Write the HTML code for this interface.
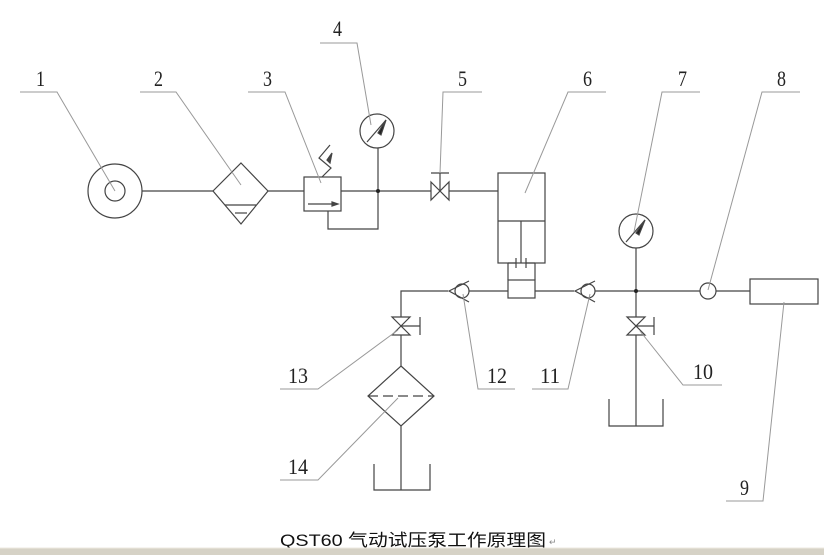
<!DOCTYPE html>
<html><head><meta charset="utf-8"><style>
html,body{margin:0;padding:0;background:#fff;width:824px;height:555px;overflow:hidden}
svg{display:block}
.l{font-family:"Liberation Serif",serif;font-size:22px;fill:#222}
</style></head><body>
<svg width="824" height="555" viewBox="0 0 824 555">
<g fill="none" stroke="#444" stroke-width="1.2">
<circle cx="115" cy="191" r="27"/><circle cx="115" cy="191" r="10"/>
<line x1="142" y1="191" x2="213" y2="191"/>
<polygon points="241,163 268,191 241,224 213,191"/>
<line x1="225" y1="205" x2="256" y2="205"/><line x1="235" y1="213" x2="247" y2="213"/>
<line x1="268" y1="191" x2="304" y2="191"/>
<rect x="304" y="177" width="37" height="34"/>
<line x1="308" y1="204" x2="332" y2="204"/>
<polygon points="332,202 338,204 332,206" fill="#444"/>
<polyline points="322,177 331,168 319,158 330,145"/>
<polygon points="327,160 332,153 330,163" fill="#444"/>
<line x1="341" y1="191" x2="431" y2="191"/>
<polyline points="378,148 378,229 328,229 328,211"/>
<circle cx="377" cy="131" r="17"/>
<line x1="367" y1="142" x2="386" y2="120"/>
<polygon points="386,120 378,133 381,135" fill="#222"/>
<polygon points="431,182 449,200 449,182 431,200"/>
<line x1="440" y1="191" x2="440" y2="173"/><line x1="431" y1="173" x2="449" y2="173"/>
<line x1="449" y1="191" x2="498" y2="191"/>
<rect x="498" y="173" width="47" height="90"/>
<line x1="498" y1="221" x2="545" y2="221"/>
<line x1="521" y1="221" x2="521" y2="263"/>
<line x1="516" y1="258" x2="516" y2="268"/><line x1="526" y1="258" x2="526" y2="268"/>
<line x1="508" y1="263" x2="516" y2="263"/><line x1="526" y1="263" x2="535" y2="263"/>
<line x1="508" y1="263" x2="508" y2="280"/><line x1="535" y1="263" x2="535" y2="280"/>
<rect x="508" y="280" width="27" height="18"/>
<polyline points="401,317 401,291 448,291"/>
<circle cx="462" cy="291" r="7"/>
<polyline points="469,281 449,291 469,302"/>
<line x1="469" y1="291" x2="508" y2="291"/>
<line x1="535" y1="291" x2="574" y2="291"/>
<circle cx="588" cy="291" r="7"/>
<polyline points="595,281 575,291 595,302"/>
<line x1="595" y1="291" x2="700" y2="291"/>
<circle cx="708" cy="291" r="8"/>
<line x1="716" y1="291" x2="750" y2="291"/>
<rect x="750" y="279" width="68" height="25"/>
<circle cx="636" cy="231" r="17"/>
<line x1="626" y1="242" x2="645" y2="220"/>
<polygon points="645,220 636,233 639,235" fill="#222"/>
<line x1="636" y1="248" x2="636" y2="317"/>
<polygon points="627,317 645,317 627,335 645,335"/>
<line x1="636" y1="326" x2="654" y2="326"/><line x1="654" y1="317" x2="654" y2="335"/>
<line x1="636" y1="335" x2="636" y2="426"/>
<polyline points="609,399 609,426 663,426 663,399"/>
<polygon points="392,317 410,317 392,335 410,335"/>
<line x1="401" y1="326" x2="420" y2="326"/><line x1="420" y1="317" x2="420" y2="335"/>
<line x1="401" y1="335" x2="401" y2="366"/>
<polygon points="401,366 434,396 401,426 368,396"/>
<line x1="368" y1="396" x2="434" y2="396" stroke-dasharray="10,5"/>
<line x1="401" y1="426" x2="401" y2="490"/>
<polyline points="374,464 374,490 430,490 430,464"/>
</g>
<g fill="#222"><circle cx="378" cy="191" r="2"/><circle cx="636" cy="291" r="2"/></g>
<g fill="none" stroke="#999" stroke-width="1">
<polyline points="20,92 57,92 115,191"/>
<polyline points="140,92 176,92 241,185"/>
<polyline points="248,92 285,92 321,183"/>
<polyline points="320,43 357,43 371,125"/>
<polyline points="482,92 443,92 440,173"/>
<polyline points="606,92 568,92 525,193"/>
<polyline points="700,92 662,92 634,232"/>
<polyline points="800,92 762,92 708,290"/>
<polyline points="726,501 763,501 784,302"/>
<polyline points="722,385 683,385 640,331"/>
<polyline points="532,389 568,389 590,294"/>
<polyline points="515,389 478,389 463,294"/>
<polyline points="280,389 318,389 398,330"/>
<polyline points="280,480 318,480 398,398"/>
</g>
<g class="l" lengthAdjust="spacingAndGlyphs">
<text x="36" y="86" textLength="9" lengthAdjust="spacingAndGlyphs">1</text>
<text x="154" y="86" textLength="9" lengthAdjust="spacingAndGlyphs">2</text>
<text x="263" y="86" textLength="9" lengthAdjust="spacingAndGlyphs">3</text>
<text x="333" y="36" textLength="9" lengthAdjust="spacingAndGlyphs">4</text>
<text x="458" y="86" textLength="9" lengthAdjust="spacingAndGlyphs">5</text>
<text x="583" y="86" textLength="9" lengthAdjust="spacingAndGlyphs">6</text>
<text x="678" y="86" textLength="9" lengthAdjust="spacingAndGlyphs">7</text>
<text x="777" y="86" textLength="9" lengthAdjust="spacingAndGlyphs">8</text>
<text x="740" y="495" textLength="9" lengthAdjust="spacingAndGlyphs">9</text>
<text x="693" y="379" textLength="20" lengthAdjust="spacingAndGlyphs">10</text>
<text x="540" y="383" textLength="20" lengthAdjust="spacingAndGlyphs">11</text>
<text x="487" y="383" textLength="20" lengthAdjust="spacingAndGlyphs">12</text>
<text x="288" y="383" textLength="20" lengthAdjust="spacingAndGlyphs">13</text>
<text x="288" y="474" textLength="20" lengthAdjust="spacingAndGlyphs">14</text>
</g>
<text x="280" y="546" font-family="'Liberation Sans','Noto Sans CJK SC',sans-serif" font-size="17" fill="#111" textLength="266" lengthAdjust="spacingAndGlyphs">QST60 气动试压泵工作原理图</text>
<text x="549" y="545" font-family="'Liberation Sans',sans-serif" font-size="9" fill="#888">↵</text>
<rect x="0" y="548" width="824" height="7" fill="#d6d2c6"/>
<line x1="0" y1="548" x2="824" y2="548" stroke="#eeeae0"/>
</svg>
</body></html>
